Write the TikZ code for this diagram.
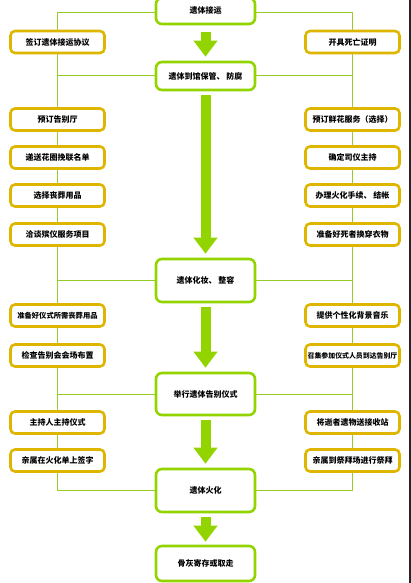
\documentclass[tikz,border=0pt]{standalone}
\usepackage{fontspec}
\newfontfamily\cjk{Noto Sans CJK SC}
\usetikzlibrary{arrows.meta}
\definecolor{lime}{RGB}{146,212,0}
\definecolor{gold}{RGB}{222,182,0}
\definecolor{linegreen}{RGB}{150,205,40}
\tikzset{
  x=1pt, y=-1pt,
  mainbox/.style={draw=lime, line width=2.6pt, rounded corners=6pt, fill=white,
    minimum width=99pt, inner sep=0pt, font=\cjk\bfseries\fontsize{8}{9}\selectfont},
  sidebox/.style={draw=gold, line width=2.6pt, rounded corners=4.5pt, fill=white,
    minimum width=94pt, minimum height=22pt, inner sep=0pt, font=\cjk\bfseries\fontsize{8}{9}\selectfont},
  link/.style={draw=linegreen, line width=1pt},
  bigarrow/.style={draw=lime, line width=10pt, line cap=butt,
    -{Triangle[width=23pt,length=16pt]}, shorten <=4pt, shorten >=4pt},
}
\begin{document}
\begin{tikzpicture}
\useasboundingbox (0,0) rectangle (411,583);
% centre column
\node[mainbox, minimum height=26pt] (b1) at (205.5,11) {遗体接运};
\node[mainbox, minimum height=28pt] (b2) at (205.5,76) {遗体到馆保管、 防腐};
\node[mainbox, minimum height=43pt] (b3) at (205.5,280.5) {遗体化妆、 整容};
\node[mainbox, minimum height=42pt] (b4) at (205.5,394) {举行遗体告别仪式};
\node[mainbox, minimum height=43pt] (b5) at (205.5,490.5) {遗体火化};
\node[mainbox, minimum height=35pt] (b6) at (205.5,563.5) {骨灰寄存或取走};
% left column
\node[sidebox] (l1) at (57.5,42) {签订遗体接运协议};
\node[sidebox] (l2) at (57.5,119.5) {预订告别厅};
\node[sidebox] (l3) at (57.5,157.5) {递送花圈挽联名单};
\node[sidebox] (l4) at (57.5,195.5) {选择丧葬用品};
\node[sidebox] (l5) at (57.5,234.5) {洽谈殡仪服务项目};
\node[sidebox, font=\cjk\bfseries\fontsize{7.3}{9}\selectfont] (l6) at (57.5,315.5) {准备好仪式所需丧葬用品};
\node[sidebox] (l7) at (57.5,355.5) {检查告别会会场布置};
\node[sidebox] (l8) at (57.5,422.5) {主持人主持仪式};
\node[sidebox] (l9) at (57.5,460.5) {亲属在火化单上签字};
% right column
\node[sidebox] (r1) at (352.5,42) {开具死亡证明};
\node[sidebox] (r2) at (352.5,119.5) {预订鲜花服务（选择）};
\node[sidebox] (r3) at (352.5,157.5) {确定司仪主持};
\node[sidebox] (r4) at (352.5,195.5) {办理火化手续、 结帐};
\node[sidebox] (r5) at (352.5,234.5) {准备好死者换穿衣物};
\node[sidebox] (r6) at (352.5,315.5) {提供个性化背景音乐};
\node[sidebox, font=\cjk\bfseries\fontsize{6.9}{9}\selectfont] (r7) at (352.5,355.5) {召集参加仪式人员到达告别厅};
\node[sidebox] (r8) at (352.5,422.5) {将逝者遗物送接收站};
\node[sidebox] (r9) at (352.5,460.5) {亲属到祭拜场进行祭拜};
% connectors
\coordinate (t1l) at ([yshift=-2pt]b1.west);
\coordinate (t1r) at ([yshift=-2pt]b1.east);
\draw[link] (t1l) -| (l1.north);
\draw[link] (t1r) -| (r1.north);
\draw[link] (l1.south) -- (l2.north);
\draw[link] (r1.south) -- (r2.north);
\draw[link] (b2.west) -- (b2.west -| l1.south);
\draw[link] (b2.east) -- (b2.east -| r1.south);
\draw[link] (l2.south) -- (l3.north);
\draw[link] (l3.south) -- (l4.north);
\draw[link] (l4.south) -- (l5.north);
\draw[link] (l5.south) -- (l6.north);
\draw[link] (r2.south) -- (r3.north);
\draw[link] (r3.south) -- (r4.north);
\draw[link] (r4.south) -- (r5.north);
\draw[link] (r5.south) -- (r6.north);
\draw[link] (b3.west) -- (b3.west -| l5.south);
\draw[link] (b3.east) -- (b3.east -| r5.south);
\draw[link] (l6.south) -- (l7.north);
\draw[link] (l7.south) -- (l8.north);
\draw[link] (l8.south) -- (l9.north);
\draw[link] (r6.south) -- (r7.north);
\draw[link] (r7.south) -- (r8.north);
\draw[link] (r8.south) -- (r9.north);
\draw[link] (b4.west) -- (b4.west -| l7.south);
\draw[link] (b4.east) -- (b4.east -| r7.south);
\draw[link] (l9.south) |- (b5.west);
\draw[link] (r9.south) |- (b5.east);
% big arrows
\draw[bigarrow, shorten <=7pt] (b1.south) -- (b2.north);
\draw[bigarrow] (b2.south) -- (b3.north);
\draw[bigarrow] (b3.south) -- (b4.north);
\draw[bigarrow] (b4.south) -- (b5.north);
\draw[bigarrow, shorten <=4pt, shorten >=3pt] (b5.south) -- (b6.north);
% page edge
\coordinate (et) at (410,0);
\coordinate (eb) at (410,583);
\draw[black!85, line width=1.2pt] (et) -- (eb);
\end{tikzpicture}
\end{document}
